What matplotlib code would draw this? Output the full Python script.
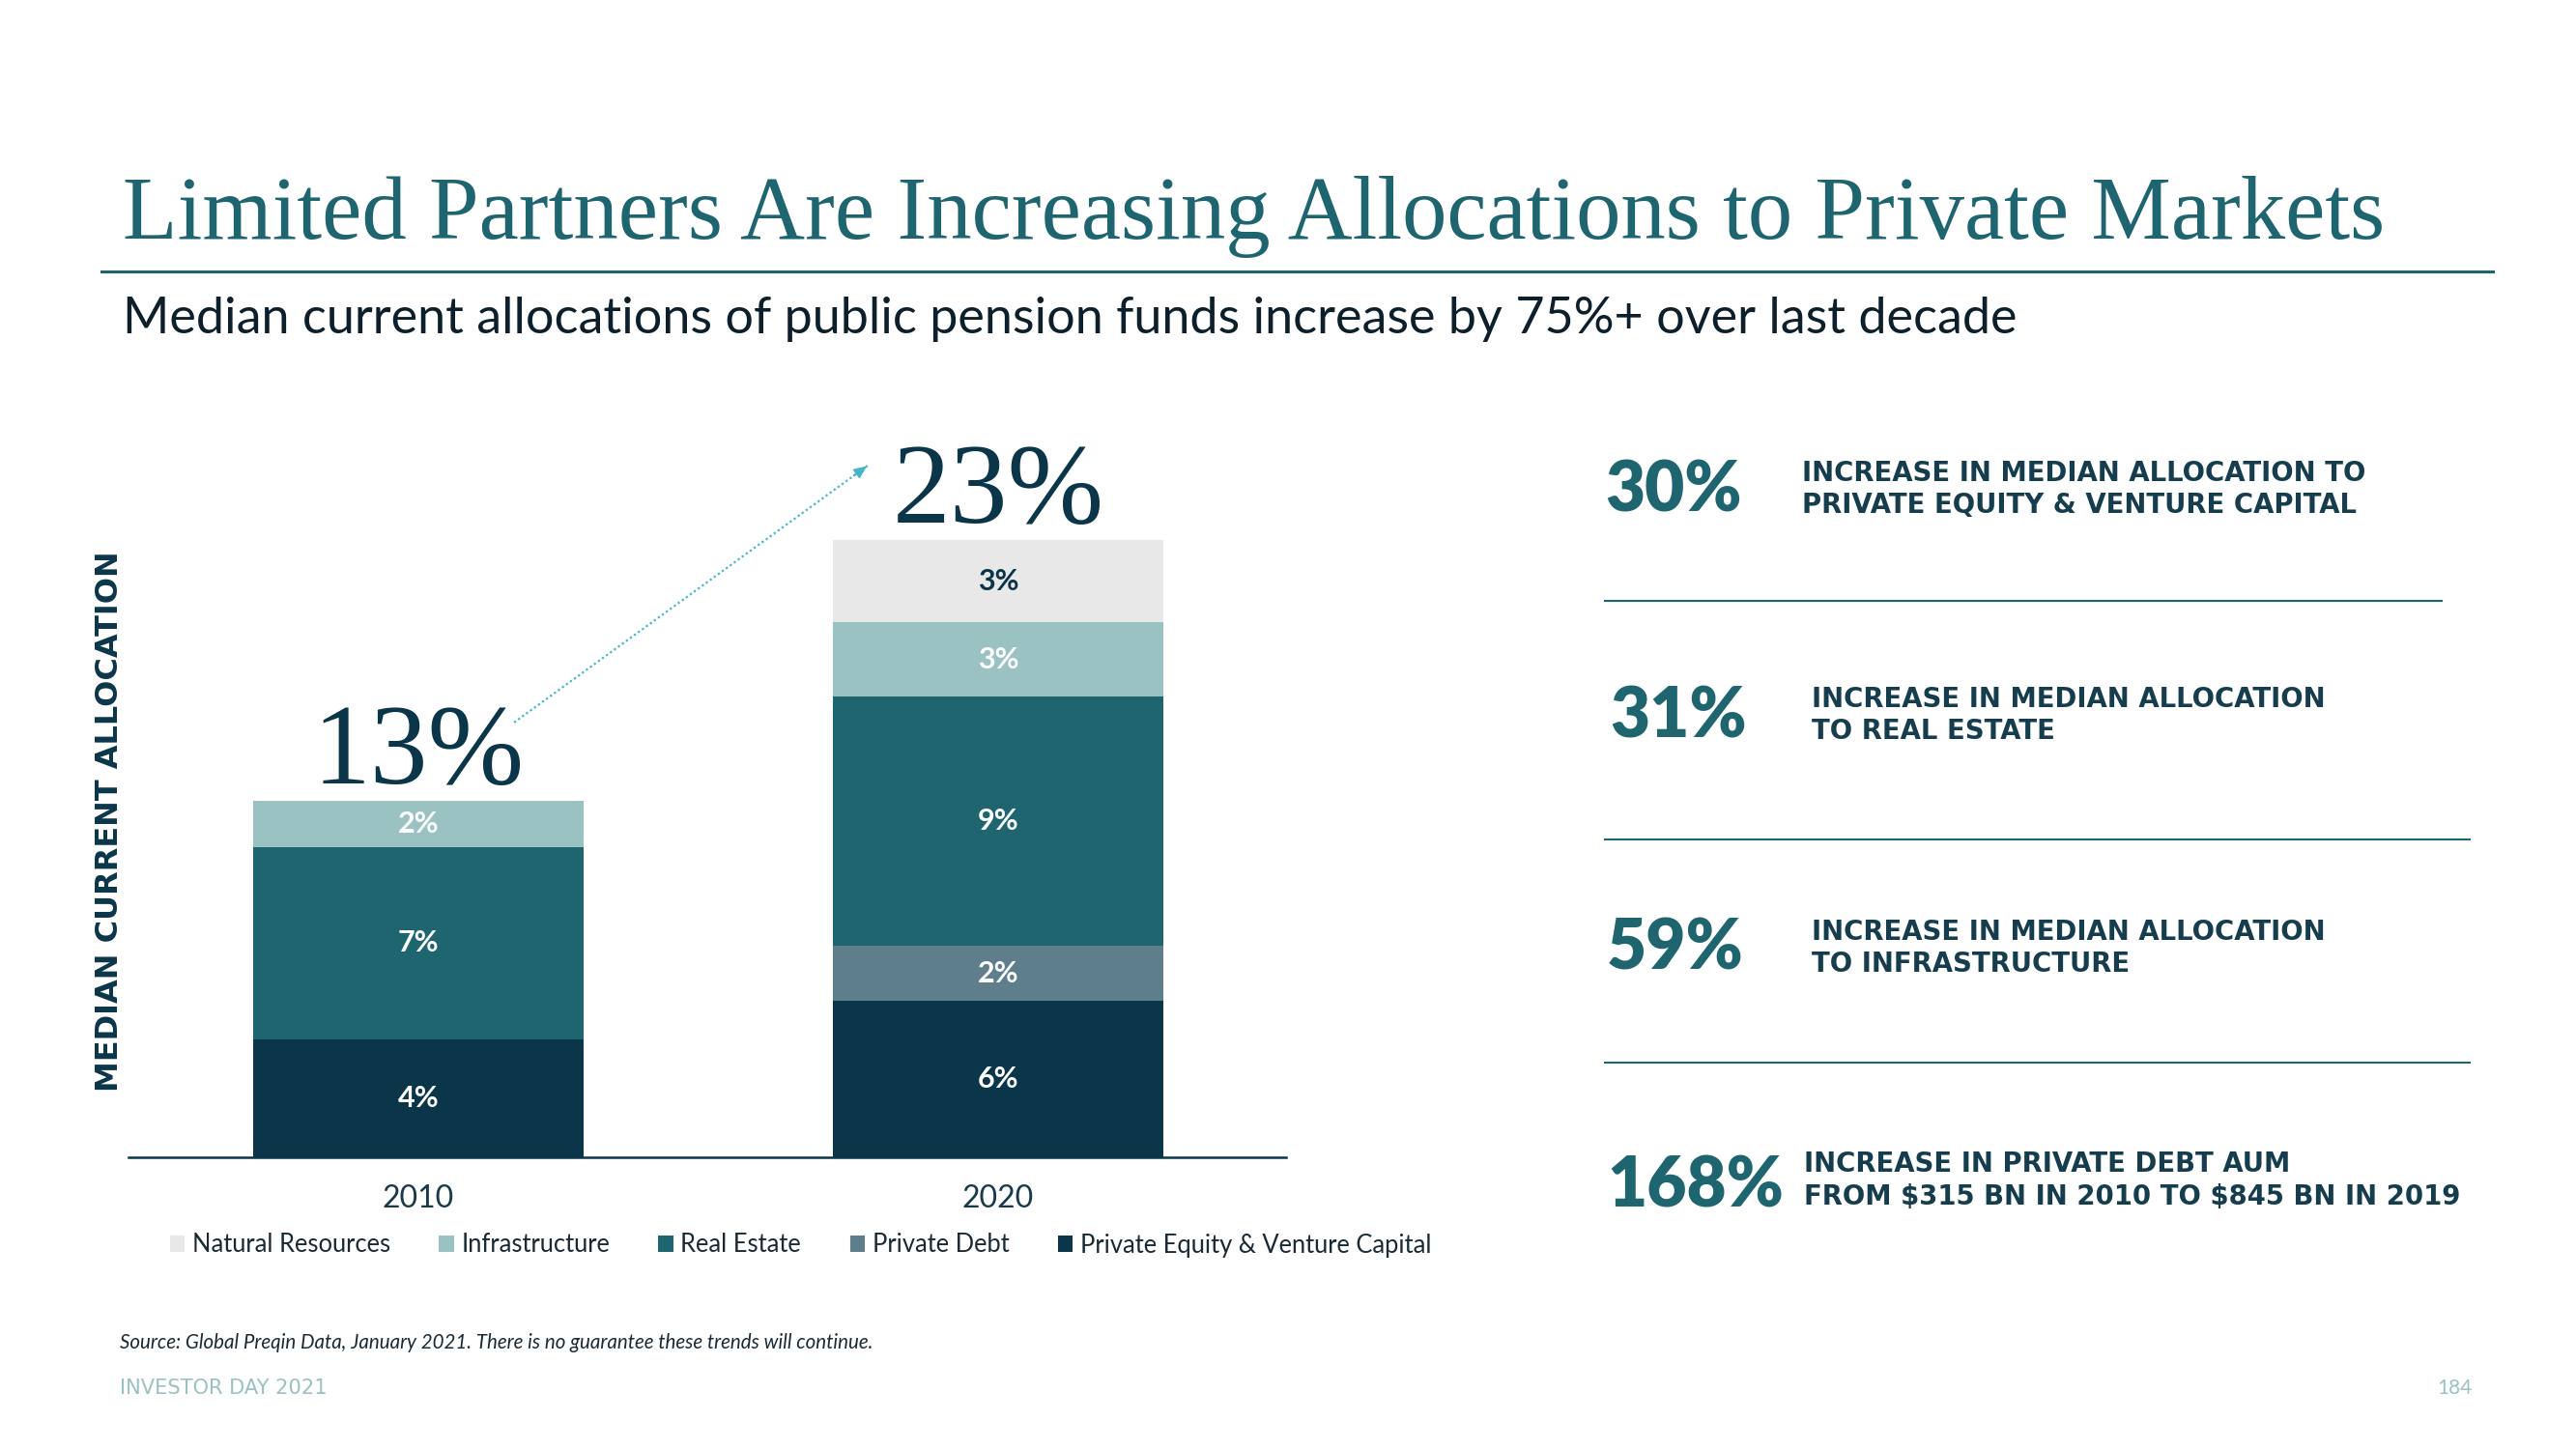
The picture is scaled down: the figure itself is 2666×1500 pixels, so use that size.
import matplotlib
matplotlib.use("Agg")
import matplotlib.pyplot as plt
from matplotlib.lines import Line2D
from matplotlib.patches import Patch
import numpy as np

# ---------------- data ----------------
years = ["2010", "2020"]
series = ["Private Equity & Venture Capital", "Private Debt", "Real Estate",
          "Infrastructure", "Natural Resources"]
pe_vc = [4.3, 5.7]
private_debt = [0.0, 2.0]
real_estate = [7.0, 9.1]
infrastructure = [1.7, 2.7]
natural_resources = [0.0, 3.0]
total_labels = [13, 23]

stat_values = ["30%", "31%", "59%", "168%"]
stat_texts = [
    ["INCREASE IN MEDIAN ALLOCATION TO", "PRIVATE EQUITY & VENTURE CAPITAL"],
    ["INCREASE IN MEDIAN ALLOCATION", "TO REAL ESTATE"],
    ["INCREASE IN MEDIAN ALLOCATION", "TO INFRASTRUCTURE"],
    ["INCREASE IN PRIVATE DEBT AUM", "FROM $315 BN IN 2010 TO $845 BN IN 2019"],
]

# ---------------- style ----------------
W, H = 2666, 1500
TEAL = "#1f6570"
NAVY = "#0b3548"
TXT = "#163d4d"
LIGHT = "#9bc2c2"
colors = {
    "Private Equity & Venture Capital": "#0b3548",
    "Private Debt": "#5d7e8a",
    "Real Estate": "#1f6570",
    "Infrastructure": "#9bc2c2",
    "Natural Resources": "#e8e8e8",
}
SANS = ["Lato", "DejaVu Sans"]
SERIF = ["Liberation Serif", "DejaVu Serif"]
CAPS = ["DejaVu Sans"]

fig = plt.figure(figsize=(W / 100, H / 100), dpi=100)
fig.patch.set_facecolor("white")


def P(x, y):
    return (x / W, 1 - y / H)


renderer = fig.canvas.get_renderer()


def fit(t, target):
    bb = t.get_window_extent(renderer)
    length = bb.height if t.get_rotation() in (90, 270) else bb.width
    t.set_fontsize(t.get_fontsize() * target / length)
    return t.get_fontsize()


# ---------------- header ----------------
title = fig.text(*P(127, 247), "Limited Partners Are Increasing Allocations to Private Markets",
                 family=SERIF, fontsize=60, color=TEAL, ha="left", va="baseline")
fit(title, 2343)
fig.add_artist(Line2D([105 / W, 2580 / W], [1 - 281 / H] * 2, color=TEAL, lw=2.2))
sub = fig.text(*P(127, 345), "Median current allocations of public pension funds increase by 75%+ over last decade",
               family=SANS, fontsize=30, color="#0d1f2a", ha="left", va="baseline")
fit(sub, 1958)

# ---------------- chart ----------------
ax_left, ax_right, ax_bottom, ax_top = 133, 1331, 1198, 400
ax = fig.add_axes([ax_left / W, 1 - ax_bottom / H, (ax_right - ax_left) / W, (ax_bottom - ax_top) / H])
ax.set_xlim(-0.5, 1.497)
ax.set_ylim(0, (ax_bottom - ax_top) / 28.4)
x = np.arange(len(years))
bw = 0.57
stack = [pe_vc, private_debt, real_estate, infrastructure, natural_resources]
bottom = np.zeros(len(years))
for name, vals in zip(series, stack):
    vals = np.array(vals)
    ax.bar(x, vals, bw, bottom=bottom, color=colors[name], label=name, linewidth=0)
    for xi, v, b in zip(x, vals, bottom):
        if v > 0:
            ax.text(xi, b + v / 2, f"{int(round(v))}%", ha="center", va="center",
                    family=SANS, fontweight="bold", fontsize=22,
                    color=NAVY if name == "Natural Resources" else "white")
    bottom = bottom + vals

for xi, tot, lab in zip(x, bottom, total_labels):
    ax.annotate(f"{lab}%", xy=(xi, tot), xytext=(0, 13), textcoords="offset points",
                ha="center", va="baseline", family=SERIF, fontsize=86, color=NAVY)

# dotted arrow between totals
start = (x[0] + bw * 0.29, bottom[0] + 2.85)
end = (x[1] - bw * 0.39, bottom[1] + 2.75)
ax.plot([start[0], end[0]], [start[1], end[1]], color="#45b5c9", lw=1.6,
        linestyle=(0, (1, 1.3)), solid_capstyle="butt", dash_capstyle="butt")
ax.annotate("", xy=end, xytext=(end[0] - 0.03, end[1] - 0.03 * (end[1] - start[1]) / (end[0] - start[0])),
            arrowprops=dict(arrowstyle="-|>,head_length=0.8,head_width=0.35", color="#45b5c9", lw=1.2))

for s in ["top", "right", "left"]:
    ax.spines[s].set_visible(False)
ax.spines["bottom"].set_color(NAVY)
ax.spines["bottom"].set_linewidth(1.8)
ax.set_yticks([])
ax.set_xticks(x)
ax.set_xticklabels(years, family=SANS, fontweight="normal", fontsize=23, color="#1a3a4a")
ax.tick_params(axis="x", length=0, pad=20)

handles = [Patch(facecolor=colors[n], edgecolor="none") for n in series[::-1]]
leg = ax.legend(handles, series[::-1], loc="center left", bbox_to_anchor=P(163, 1289),
                bbox_transform=fig.transFigure, ncol=5, frameon=False, borderpad=0,
                handlelength=0.6, handleheight=0.6, handletextpad=0.3, columnspacing=1.97,
                prop=dict(family=SANS, size=18.4))
for t in leg.get_texts():
    t.set_color("#1a2a35")

ylab = fig.text(*P(114, 850), "MEDIAN CURRENT ALLOCATION", rotation=90, family=CAPS,
                fontweight="bold", fontsize=24, color=NAVY, ha="center", va="center")
fit(ylab, 561)

# ---------------- right panel ----------------
num_pos = [(1661, 530), (1666, 763), (1663, 1003), (1663, 1250)]
txt_pos = [(1865, 498, 531), (1875, 732, 765), (1875, 973, 1006), (1867, 1213, 1247)]
probe = fig.text(0, 0, stat_values[0], family=SANS, fontweight="heavy", fontsize=50)
num_fs = fit(probe, 142)
probe.remove()
probe = fig.text(0, 0, stat_texts[0][0], family=CAPS, fontweight="bold", fontsize=19)
txt_fs = fit(probe, 584)
probe.remove()
for val, lines, (nx, ny), (tx, ty1, ty2) in zip(stat_values, stat_texts, num_pos, txt_pos):
    fig.text(*P(nx, ny), val, family=SANS, fontweight="heavy", fontsize=num_fs, color=TEAL,
             ha="left", va="baseline")
    fig.text(*P(tx, ty1), lines[0], family=CAPS, fontweight="bold", fontsize=txt_fs, color=TXT,
             ha="left", va="baseline", parse_math=False)
    fig.text(*P(tx, ty2), lines[1], family=CAPS, fontweight="bold", fontsize=txt_fs, color=TXT,
             ha="left", va="baseline", parse_math=False)

for ly, lx1, lx2 in [(622, 1661, 2527), (869, 1661, 2556), (1100, 1661, 2556)]:
    fig.add_artist(Line2D([lx1 / W, lx2 / W], [1 - ly / H] * 2, color=TEAL, lw=1.5))

# ---------------- footer ----------------
src = fig.text(*P(124, 1396), "Source: Global Preqin Data, January 2021. There is no guarantee these trends will continue.",
               family=SANS, style="italic", fontsize=14, color="#1a2a35", ha="left", va="baseline")
fit(src, 784)
inv = fig.text(*P(124, 1443), "INVESTOR DAY 2021", family=CAPS, fontsize=13, color=LIGHT,
               ha="left", va="baseline")
fit(inv, 214)
fig.text(*P(2559, 1443), "184", family=SANS, fontsize=15, color=LIGHT, ha="right", va="baseline")

fig.savefig("out.png", dpi=100, facecolor="white")
